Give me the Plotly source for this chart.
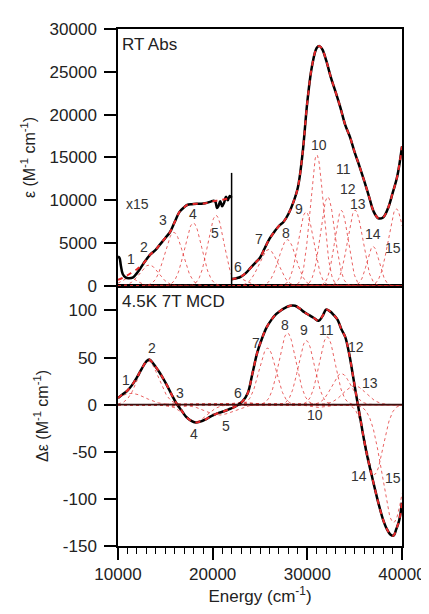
import numpy as np
import plotly.graph_objects as go

# ---------------- data ----------------
# RT absorption, low-energy part (x15 scaled), experimental
abs_left_E = [10000, 10150, 10300, 10500, 10800, 11100, 11600, 12000, 12300, 12800, 13400, 14000,
              14400, 15000, 15500, 16000, 16500, 17000, 17300, 17800, 18600, 19200, 19800, 20100,
              20300, 20450, 20600, 20800, 21000, 21200, 21400, 21600, 21800, 22000]
abs_left_eps = [3400, 3300, 2400, 1400, 1000, 900, 1000, 1500, 1950, 2800, 3650, 4250,
                4800, 5600, 6300, 7500, 8650, 9200, 9450, 9550, 9600, 9650, 9850, 9950,
                9800, 9100, 9300, 9900, 9300, 9700, 10400, 10000, 10500, 10300]
# fit (red dashed), low-energy part
fit_left_E = [10000, 10500, 11000, 11500, 12000, 12500, 13000, 13400, 14000, 14400, 15000, 15500,
              16000, 16500, 17000, 17300, 17800, 18600, 19200, 19800, 20400, 21000, 21600, 22000]
fit_left_eps = [700, 950, 1250, 1600, 1950, 2400, 3050, 3650, 4250, 4800, 5600, 6300,
                7500, 8650, 9200, 9450, 9550, 9600, 9650, 9850, 9950, 10050, 10200, 10300]

# RT absorption, high-energy part
abs_right_E = [22000, 22500, 23000, 23500, 24000, 24500, 25000, 25500, 26000, 26500, 27000, 27500,
               28000, 28500, 29000, 29500, 30000, 30500, 31000, 31300, 31600, 32000, 32500, 33000,
               33500, 34000, 34500, 35000, 35500, 36000, 36500, 37000, 37500, 38000, 38500, 39000,
               39500, 40000]
abs_right_eps = [800, 900, 1100, 1500, 2100, 2700, 3300, 4400, 5500, 6300, 7000, 7500,
                 8400, 9700, 11500, 15500, 21500, 25700, 27800, 28000, 27600, 26300, 24300, 22600,
                 20800, 18800, 17400, 15600, 14000, 12300, 10500, 8700, 7900, 8000, 9000, 10800,
                 12800, 16300]

# Gaussian components of absorption: band number, centre, height, width (sigma)
abs_band_no = [1, 2, 3, 4, 5, 6, 7, 8, 9, 10, 11, 12, 13, 14, 15]
abs_band_center = [11200, 13300, 15900, 17950, 20350, 22700, 25900, 27900, 29850, 31000,
                   32150, 33600, 35050, 36950, 39400]
abs_band_height = [1000, 2450, 6250, 7350, 8250, 900, 4250, 5400, 8650, 15300,
                   10400, 8800, 8850, 4600, 9000]
abs_band_sigma = [800, 1000, 950, 900, 850, 900, 1000, 900, 800, 700,
                  750, 700, 800, 650, 850]

# 4.5 K 7 T MCD
mcd_E = [10000, 10500, 11000, 11500, 12000, 12500, 13000, 13300, 13700, 14200, 14700, 15200,
         15700, 16200, 16700, 17200, 17700, 18200, 18700, 19200, 19700, 20200, 20700, 21200,
         21700, 22200, 22700, 23200, 23700, 24200, 24700, 25200, 25700, 26200, 26700, 27200,
         27700, 28200, 28700, 29200, 29700, 30200, 30700, 31200, 31600, 32000, 32400, 32800,
         33200, 33600, 34000, 34400, 34800, 35200, 35600, 36000, 36400, 36800, 37200, 37600,
         38000, 38400, 38800, 39100, 39400, 39700, 40000]
mcd_de = [7, 11, 15, 21, 29, 38, 46, 48, 44, 37, 29, 20,
          10, 1, -6, -13, -17, -19, -18, -16, -13, -10.5, -8.5, -7,
          -5, -3, 0, 4, 12, 33, 55, 70, 82, 90, 96, 100,
          103, 105, 105, 102, 98, 95, 92, 89, 94, 101, 99, 95,
          90, 80, 72, 55, 32, 8, -15, -38, -58, -75, -92, -108,
          -122, -132, -138, -139, -132, -123, -104]

mcd_band_no = [1, 2, 3, 4, 5, 6, 7, 8, 9, 10, 11, 12, 13, 14, 15]
mcd_band_center = [11400, 13200, 16000, 18200, 20700, 23000, 25800, 27900, 29900, 31000,
                   32100, 33600, 35000, 37100, 39100]
mcd_band_height = [12, 46, -3, -18, -11, 3, 60, 76, 68, -3, 72, 33, 20, -74, -125]
mcd_band_sigma = [1500, 1100, 800, 1200, 1500, 800, 900, 900, 850, 800, 850, 1000, 1200, 900, 1200]

# band label positions
abs_lab_x = [11340, 12750, 14780, 17950, 20240, 22640, 24930, 27740, 29080, 31230,
             33800, 34320, 35380, 36960, 39070]
abs_lab_y = [3090, 4500, 7670, 8440, 6150, 2250, 5500, 6150, 9010, 16460,
             13700, 11300, 9590, 6030, 4430]
mcd_lab_x = [10810, 13620, 16550, 18060, 21400, 22700, 24570, 27630, 29640, 30800,
             32040, 35130, 36610, 35480, 39070]
mcd_lab_y = [25.9, 59.7, 12.6, -31.1, -22.4, 12.6, 65.7, 84.2, 79, -10.8,
             79.7, 61.5, 23, -75.5, -78.3]

# tick labels
x_ticks = [10000, 20000, 30000, 40000]
x_ticklabels = ["10000", "20000", "30000", "40000"]
abs_ticks = [0, 5000, 10000, 15000, 20000, 25000, 30000]
abs_ticklabels = ["0", "5000", "10000", "15000", "20000", "25000", "30000"]
mcd_ticks = [-150, -100, -50, 0, 50, 100]
mcd_ticklabels = ["-150", "-100", "-50", "0", "50", "100"]

split_E = 22000
split_top = 13200

# ---------------- figure ----------------
FONT = "Arial, Liberation Sans, Helvetica, sans-serif"
RED_DOT = "rgba(225,45,45,0.75)"

fig = go.Figure()

def gauss(E, c, h, s):
    return h * np.exp(-0.5 * ((E - c) / s) ** 2)

# absorption components
for n, c, h, s in zip(abs_band_no, abs_band_center, abs_band_height, abs_band_sigma):
    if c < split_E:
        E = np.linspace(10000, split_E, 240)
    else:
        E = np.linspace(split_E, 40000, 360)
    fig.add_trace(go.Scatter(x=E, y=gauss(E, c, h, s), mode="lines",
                             line=dict(color=RED_DOT, width=1, dash="dot"),
                             xaxis="x2", yaxis="y2", showlegend=False, hoverinfo="skip"))

# absorption experimental
for ex, ey in [(abs_left_E, abs_left_eps), (abs_right_E, abs_right_eps)]:
    fig.add_trace(go.Scatter(x=ex, y=ey, mode="lines", line=dict(color="black", width=2.5, shape="spline"),
                             xaxis="x2", yaxis="y2", showlegend=False))
# absorption fit
for ex, ey in [(fit_left_E, fit_left_eps), (abs_right_E, abs_right_eps)]:
    fig.add_trace(go.Scatter(x=ex, y=ey, mode="lines",
                             line=dict(color="#e8282a", width=2, dash="5px,5px", shape="spline"),
                             xaxis="x2", yaxis="y2", showlegend=False))

# MCD components
E_all = np.linspace(10000, 40000, 600)
for n, c, h, s in zip(mcd_band_no, mcd_band_center, mcd_band_height, mcd_band_sigma):
    fig.add_trace(go.Scatter(x=E_all, y=gauss(E_all, c, h, s), mode="lines",
                             line=dict(color=RED_DOT, width=1, dash="dot"),
                             xaxis="x", yaxis="y", showlegend=False, hoverinfo="skip"))
fig.add_trace(go.Scatter(x=mcd_E, y=mcd_de, mode="lines", line=dict(color="black", width=2.5, shape="spline"),
                         xaxis="x", yaxis="y", showlegend=False))
fig.add_trace(go.Scatter(x=mcd_E, y=mcd_de, mode="lines",
                         line=dict(color="#e8282a", width=2, dash="5px,5px", shape="spline"),
                         xaxis="x", yaxis="y", showlegend=False))

# vertical separator in top panel
fig.add_shape(type="line", xref="x2", yref="y2", x0=split_E, x1=split_E, y0=0, y1=split_top,
              line=dict(color="black", width=1.5))
# zero line of the MCD panel drawn above the component curves
fig.add_shape(type="line", xref="x domain", yref="y", x0=0, x1=1, y0=0, y1=0,
              line=dict(color="#3a1010", width=1.6), layer="above")

ann = []
for n, x, y in zip(abs_band_no, abs_lab_x, abs_lab_y):
    ann.append(dict(x=x, y=y, xref="x2", yref="y2", text=str(n), showarrow=False,
                    font=dict(family=FONT, size=14, color="#333333")))
for n, x, y in zip(mcd_band_no, mcd_lab_x, mcd_lab_y):
    ann.append(dict(x=x, y=y, xref="x", yref="y", text=str(n), showarrow=False,
                    font=dict(family=FONT, size=14, color="#333333")))
ann.append(dict(x=12100, y=9600, xref="x2", yref="y2", text="x15", showarrow=False,
                font=dict(family=FONT, size=14, color="#333333")))
ann.append(dict(x=10250, y=28200, xref="x2", yref="y2", text="RT Abs", showarrow=False, xanchor="left",
                font=dict(family=FONT, size=17, color="#222222")))
ann.append(dict(x=10250, y=110, xref="x", yref="y", text="4.5K 7T MCD", showarrow=False, xanchor="left",
                font=dict(family=FONT, size=17, color="#222222")))

axis_common = dict(showline=True, linecolor="black", linewidth=1.5, mirror=True, showgrid=False,
                   tickfont=dict(family=FONT, size=17, color="#222222"))

fig.update_layout(
    width=413, height=598,
    margin=dict(l=110, r=19, t=13, b=60),
    paper_bgcolor="white", plot_bgcolor="white",
    annotations=ann,
    xaxis=dict(domain=[0, 1], anchor="y", range=[10000, 40000],
               tickmode="array", tickvals=x_ticks, ticktext=x_ticklabels,
               ticklabeloverflow="allow", automargin=False,
               ticks="outside", ticklen=12, tickwidth=1.5, tickcolor="black",
               minor=dict(tickmode="linear", tick0=10000, dtick=1000, ticks="outside", ticklen=6,
                          tickwidth=1.2, tickcolor="black", showgrid=False),
               title=dict(text="Energy (cm<sup>-1</sup>)", font=dict(family=FONT, size=17, color="#222222"),
                          standoff=18),
               zeroline=False, **axis_common),
    yaxis=dict(domain=[0, 0.503], anchor="x", range=[-150, 126],
               tickmode="array", tickvals=mcd_ticks, ticktext=mcd_ticklabels,
               ticks="outside", ticklen=12, tickwidth=1.5, tickcolor="black",
               ticklabelstandoff=4, zeroline=False,
               title=dict(text="Δε (M<sup>-1</sup> cm<sup>-1</sup>)",
                          font=dict(family=FONT, size=16, color="#222222"), standoff=10),
               **axis_common),
    xaxis2=dict(domain=[0, 1], anchor="y2", matches="x", range=[10000, 40000], showticklabels=False,
                ticks="", zeroline=False, **axis_common),
    yaxis2=dict(domain=[0.503, 1], anchor="x2", range=[0, 30000],
                tickmode="array", tickvals=abs_ticks, ticktext=abs_ticklabels,
                ticks="outside", ticklen=12, tickwidth=1.5, tickcolor="black", zeroline=False,
                ticklabelstandoff=4,
                title=dict(text="ε (M<sup>-1</sup> cm<sup>-1</sup>)",
                           font=dict(family=FONT, size=16, color="#222222"), standoff=10),
                **axis_common),
)

fig.write_html("out.html")
